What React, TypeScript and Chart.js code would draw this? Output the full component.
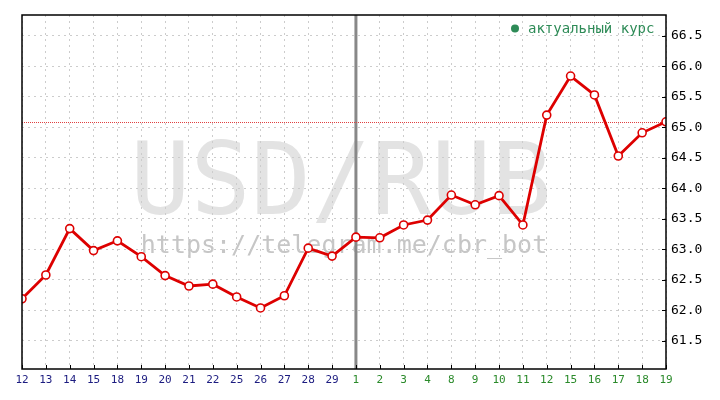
import React, { useEffect, useRef } from 'react';
import { Chart, registerables } from 'chart.js';

Chart.register(...registerables);

const categories = [
  '12', '13', '14', '15', '18', '19', '20', '21', '22', '25', '26', '27', '28', '29',
  '1', '2', '3', '4', '8', '9', '10', '11', '12', '15', '16', '17', '18', '19',
];
const values = [
  62.19, 62.58, 63.34, 62.98, 63.14, 62.88, 62.57, 62.40, 62.43, 62.22, 62.04, 62.24, 63.02, 62.89,
  63.20, 63.19, 63.40, 63.48, 63.89, 63.73, 63.88, 63.40, 65.20, 65.84, 65.53, 64.53, 64.91, 65.09,
];
const yTicks = [61.5, 62.0, 62.5, 63.0, 63.5, 64.0, 64.5, 65.0, 65.5, 66.0, 66.5];
const yMin = 61.04;
const yMax = 66.84;
const monthSplitIndex = 14;
const legendLabel = 'актуальный курс';
const watermarkTitle = 'USD/RUB';
const watermarkUrl = 'https://telegram.me/cbr_bot';

const MONO = '"DejaVu Sans Mono", monospace';

const overlayPlugin = {
  id: 'overlay',
  beforeDraw(chart: any) {
    const { ctx, chartArea } = chart;
    const cx = (chartArea.left + chartArea.right) / 2;
    ctx.save();
    ctx.fillStyle = '#ffffff';
    ctx.fillRect(0, 0, chart.width, chart.height);
    ctx.textAlign = 'center';
    ctx.textBaseline = 'alphabetic';
    ctx.fillStyle = '#e3e3e3';
    ctx.font = `100px ${MONO}`;
    ctx.fillText(watermarkTitle, cx - 3, 214);
    ctx.fillStyle = '#c6c6c6';
    ctx.font = `25px ${MONO}`;
    ctx.fillText(watermarkUrl, cx, 253);
    ctx.restore();
  },
  beforeDatasetsDraw(chart: any) {
    const { ctx, chartArea, scales } = chart;
    ctx.save();
    const xs = scales.x.getPixelForValue(monthSplitIndex);
    ctx.strokeStyle = '#888888';
    ctx.lineWidth = 3;
    ctx.beginPath();
    ctx.moveTo(xs, chartArea.top);
    ctx.lineTo(xs, chartArea.bottom);
    ctx.stroke();
    const yl = Math.round(scales.y.getPixelForValue(values[values.length - 1])) + 0.5;
    ctx.strokeStyle = '#e04040';
    ctx.lineWidth = 1;
    ctx.setLineDash([1, 1]);
    ctx.beginPath();
    ctx.moveTo(chartArea.left, yl);
    ctx.lineTo(chartArea.right, yl);
    ctx.stroke();
    ctx.restore();
  },
  afterDatasetsDraw(chart: any) {
    const { ctx, chartArea, scales } = chart;
    ctx.save();
    ctx.strokeStyle = '#000000';
    ctx.beginPath();
    yTicks.forEach((v) => {
      const y = Math.round(scales.y.getPixelForValue(v)) + 0.5;
      ctx.moveTo(chartArea.right - 4, y);
      ctx.lineTo(chartArea.right, y);
    });
    categories.forEach((_, i) => {
      const x = Math.round(scales.x.getPixelForValue(i)) + 0.5;
      ctx.moveTo(x, chartArea.bottom - 4);
      ctx.lineTo(x, chartArea.bottom);
    });
    ctx.lineWidth = 1;
    ctx.stroke();
    ctx.lineWidth = 1.5;
    ctx.strokeRect(chartArea.left, chartArea.top, chartArea.right - chartArea.left, chartArea.bottom - chartArea.top);
    ctx.fillStyle = '#2e8b57';
    ctx.beginPath();
    ctx.arc(515, 28.5, 4, 0, Math.PI * 2);
    ctx.fill();
    ctx.font = `14px ${MONO}`;
    ctx.textAlign = 'left';
    ctx.textBaseline = 'middle';
    ctx.fillText(legendLabel, 528, 29);
    ctx.restore();
  },
};

export default function App() {
  const canvasRef = useRef<HTMLCanvasElement | null>(null);

  useEffect(() => {
    if (!canvasRef.current) return;
    const chart = new Chart(canvasRef.current, {
      type: 'line',
      data: {
        labels: categories,
        datasets: [
          {
            label: legendLabel,
            data: values,
            borderColor: '#dd0000',
            borderWidth: 2.8,
            pointRadius: 4,
            pointBorderWidth: 1.6,
            pointBackgroundColor: '#ffffff',
            pointBorderColor: '#dd0000',
            tension: 0,
            clip: 0,
          },
        ],
      },
      options: {
        responsive: false,
        animation: false,
        layout: { padding: { left: 22, top: 15, right: 0, bottom: 0 } },
        plugins: { legend: { display: false }, tooltip: { enabled: false } },
        scales: {
          x: {
            offset: false,
            border: { display: false, dash: [2, 4] },
            grid: { color: '#cccccc', lineWidth: 1, drawTicks: false },
            ticks: {
              autoSkip: false,
              maxRotation: 0,
              padding: 5,
              font: { family: MONO, size: 11 },
              color: (c: any) => (c.index < monthSplitIndex ? '#1c1c80' : '#2a8a2a'),
            },
            afterFit: (s: any) => {
              s.height = 31;
            },
          },
          y: {
            position: 'right',
            min: yMin,
            max: yMax,
            border: { display: false, dash: [2, 4] },
            grid: { color: '#cccccc', lineWidth: 1, drawTicks: false },
            afterBuildTicks: (s: any) => {
              s.ticks = yTicks.map((v) => ({ value: v }));
            },
            ticks: {
              padding: 5,
              font: { family: MONO, size: 13 },
              color: '#000000',
              callback: (v: any) => Number(v).toFixed(1),
            },
            afterFit: (s: any) => {
              s.width = 54;
            },
          },
        },
      },
      plugins: [overlayPlugin],
    });
    return () => chart.destroy();
  }, []);

  return (
    <div style={{ position: 'fixed', left: 0, top: 0, width: 720, height: 400, background: '#fff' }}>
      <canvas ref={canvasRef} width={720} height={400} style={{ width: 720, height: 400 }} />
    </div>
  );
}
